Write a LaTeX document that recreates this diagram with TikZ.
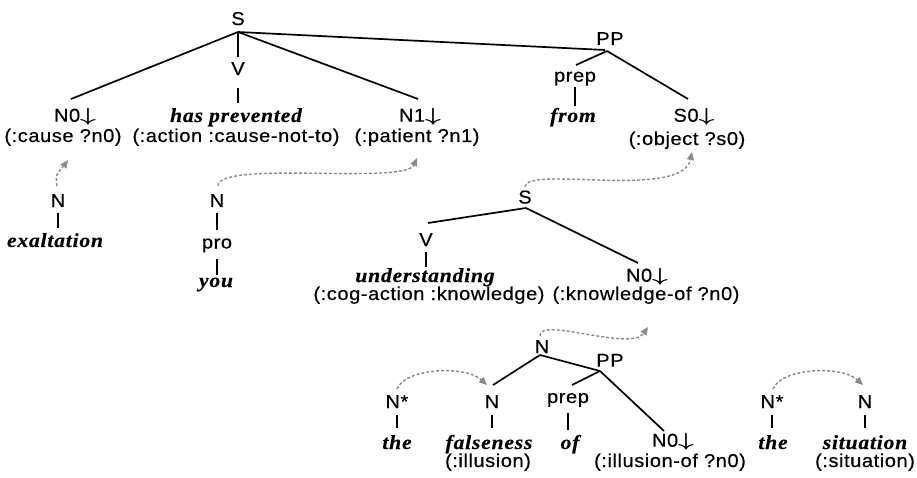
\documentclass[tikz,border=0pt]{standalone}
\usepackage{graphicx}
\usepackage{fontspec}
\setsansfont[FakeStretch=1.08,LetterSpace=3,FakeBold=0.4]{Liberation Sans}
\newfontfamily\wordfont[FakeStretch=1.08,LetterSpace=4,FakeBold=0.3]{Liberation Serif}
\usetikzlibrary{arrows.meta}
\definecolor{lk}{RGB}{140,140,140}
\newcommand{\dnarr}{\scalebox{1.6}[1.1]{$\boldsymbol{\downarrow}$}}
\usepackage{amsmath}
\tikzset{
  lab/.style={font=\sffamily\fontsize{18.6pt}{21pt}\selectfont, inner sep=0pt, anchor=base},
  wrd/.style={font=\wordfont\bfseries\itshape\fontsize{20pt}{22pt}\selectfont, inner sep=0pt, anchor=base},
  edge/.style={line width=1.7pt, black},
  link/.style={line width=1.4pt, draw=lk, dash pattern=on 3pt off 2pt,
    -{Triangle[length=8pt,width=7pt,fill=lk]}}
}
\begin{document}
\begin{tikzpicture}[x=1pt,y=-1pt]
\useasboundingbox (0,0) rectangle (917,478);
% ---------- top tree ----------
\node[lab] (S1) at (238,25) {S};
\node[lab] (V1) at (238,75) {V};
\node[wrd] (whp) at (236,122) {has prevented};
\node[lab] (pact) at (236,142) {(:action :cause-not-to)};
\node[lab] (N0a) at (75,121.7) {N0\dnarr};
\node[lab] (pcause) at (63,142) {(:cause ?n0)};
\node[lab] (N1a) at (420,121.7) {N1\dnarr};
\node[lab] (ppat) at (417,142) {(:patient ?n1)};
\node[lab] (PP1) at (610,45) {PP};
\node[lab] (prep1) at (575,81.7) {prep};
\node[wrd] (wfrom) at (573,122) {from};
\node[lab] (S0a) at (694,121.7) {S0\dnarr};
\node[lab] (pobj) at (687,145) {(:object ?s0)};
% ---------- left small trees ----------
\node[lab] (Nex) at (58,207) {N};
\node[wrd] (wex) at (55,247) {exaltation};
\node[lab] (Npro) at (217,207) {N};
\node[lab] (pro) at (217,248.5) {pro};
\node[wrd] (wyou) at (216,287) {you};
% ---------- lower tree ----------
\node[lab] (S2) at (525,203.5) {S};
\node[lab] (V2) at (426,246) {V};
\node[wrd] (wund) at (425,282) {understanding};
\node[lab] (pcog) at (429,300) {(:cog-action :knowledge)};
\node[lab] (N0b) at (647,281.7) {N0\dnarr};
\node[lab] (pkno) at (646,300) {(:knowledge-of ?n0)};
\node[lab] (Nm) at (542,353) {N};
\node[lab] (PP2) at (610,366.7) {PP};
\node[lab] (Ns1) at (397,408) {N*};
\node[lab] (Nf) at (492,408) {N};
\node[lab] (prep2) at (568,403) {prep};
\node[wrd] (wthe1) at (397,449) {the};
\node[wrd] (wfalse) at (489,449) {falseness};
\node[lab] (pill) at (488,467) {(:illusion)};
\node[wrd] (wof) at (570,449) {of};
\node[lab] (N0c) at (673,446.7) {N0\dnarr};
\node[lab] (pillof) at (670,467) {(:illusion-of ?n0)};
\node[lab] (Ns2) at (772,408) {N*};
\node[wrd] (wthe2) at (773,449) {the};
\node[lab] (Nsit) at (865,408) {N};
\node[wrd] (wsit) at (865,449) {situation};
\node[lab] (psit) at (865,467) {(:situation)};
% ---------- tree edges ----------
\draw[edge] ([yshift=-7pt]S1.base) -- ([xshift=-4pt,yshift=22.7pt]N0a.base);
\draw[edge] ([yshift=-7pt]S1.base) -- ([yshift=18pt]V1.base);
\draw[edge] ([yshift=-13pt]V1.base) -- ([xshift=2pt,yshift=19pt]whp.base);
\draw[edge] ([yshift=-7pt]S1.base) -- ([xshift=-2pt,yshift=22.7pt]N1a.base);
\draw[edge] ([yshift=-7pt]S1.base) -- ([xshift=-5pt,yshift=-5pt]PP1.base);
\draw[edge] ([xshift=-3pt,yshift=-6pt]PP1.base) -- ([xshift=1pt,yshift=16.7pt]prep1.base);
\draw[edge] ([yshift=-5.3pt]prep1.base) -- ([xshift=2pt,yshift=16pt]wfrom.base);
\draw[edge] ([xshift=-3pt,yshift=-6pt]PP1.base) -- ([xshift=-6pt,yshift=22.7pt]S0a.base);
\draw[edge] ([yshift=-6pt]Nex.base) -- ([xshift=3pt,yshift=19pt]wex.base);
\draw[edge] ([yshift=-6pt]Npro.base) -- ([yshift=18pt]pro.base);
\draw[edge] ([yshift=-10pt]pro.base) -- ([xshift=1pt,yshift=12pt]wyou.base);
\draw[edge] ([xshift=1pt,yshift=-4.5pt]S2.base) -- ([xshift=2pt,yshift=23pt]V2.base);
\draw[edge] ([xshift=1pt,yshift=-4.5pt]S2.base) -- ([xshift=-9pt,yshift=18.7pt]N0b.base);
\draw[edge] ([yshift=-6pt]V2.base) -- ([xshift=1pt,yshift=15pt]wund.base);
\draw[edge] ([xshift=-2pt,yshift=-2pt]Nm.base) -- ([xshift=1pt,yshift=23pt]Nf.base);
\draw[edge] ([xshift=-2pt,yshift=-2pt]Nm.base) -- ([xshift=-10pt,yshift=-4.3pt]PP2.base);
\draw[edge] ([xshift=-10pt,yshift=-4.3pt]PP2.base) -- ([xshift=4pt,yshift=18pt]prep2.base);
\draw[edge] ([xshift=-10pt,yshift=-4.3pt]PP2.base) -- ([xshift=-9pt,yshift=15.7pt]N0c.base);
\draw[edge] ([yshift=-7pt]Ns1.base) -- ([yshift=21pt]wthe1.base);
\draw[edge] ([yshift=-7pt]Nf.base) -- ([xshift=3pt,yshift=21pt]wfalse.base);
\draw[edge] ([yshift=-10pt]prep2.base) -- ([xshift=-2pt,yshift=19pt]wof.base);
\draw[edge] ([yshift=-7pt]Ns2.base) -- ([xshift=-1pt,yshift=21pt]wthe2.base);
\draw[edge] ([yshift=-7pt]Nsit.base) -- ([yshift=21pt]wsit.base);
% ---------- dashed links ----------
\draw[link] ([xshift=-1pt,yshift=21pt]Nex.base) .. controls +(-3,-14) and +(-7,10) .. ([xshift=5pt,yshift=-18pt]pcause.base);
\draw[link] ([xshift=1pt,yshift=21pt]Npro.base) .. controls +(0,-26) and +(-12,27) .. ([yshift=-16pt]ppat.base);
\draw[link] ([yshift=16.5pt]S2.base) .. controls +(0,-22) and +(-10,48) .. ([xshift=5pt,yshift=-7pt]pobj.base);
\draw[link] ([xshift=-2pt,yshift=17pt]Nm.base) .. controls +(-2,-20) and +(-17,25) .. ([xshift=2pt,yshift=-27pt]pkno.base);
\draw[link] ([yshift=19pt]Ns1.base) .. controls +(8,-21) and +(-22,-20) .. ([xshift=-5pt,yshift=23pt]Nf.base);
\draw[link] ([xshift=1pt,yshift=19pt]Ns2.base) .. controls +(8,-21) and +(-22,-20) .. ([xshift=-2pt,yshift=23pt]Nsit.base);
\end{tikzpicture}
\end{document}
